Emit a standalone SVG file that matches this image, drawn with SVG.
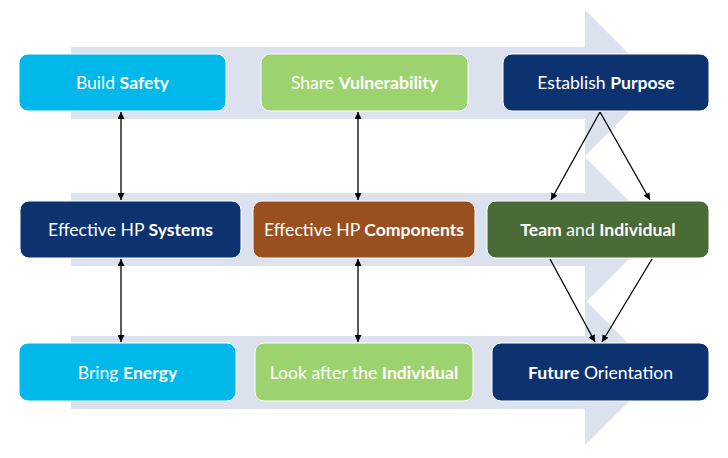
<svg xmlns="http://www.w3.org/2000/svg" width="728" height="458" viewBox="0 0 728 458">
<defs>
<style>
.band{fill:#dbe2ee}
.box{stroke:#ffffff;stroke-width:1}
.cyan{fill:#00b8ea}
.lgreen{fill:#9dd36f}
.navy{fill:#0c3370}
.brown{fill:#994f1f}
.dgreen{fill:#4a6a37}
.lbl{font-family:Lato,"Open Sans","Liberation Sans",sans-serif;font-size:17.6px;fill:#ffffff;text-anchor:middle}
.b{font-weight:bold}
.con{stroke:#000;stroke-width:1.3;fill:none}
</style>
<marker id="ah" viewBox="0 0 10 10" refX="10" refY="5" markerWidth="7" markerHeight="7" orient="auto-start-reverse" markerUnits="userSpaceOnUse">
<path d="M0,0 L10,5 L0,10 z" fill="#000"/>
</marker>
</defs>
<rect width="728" height="458" fill="#ffffff"/>
<g id="bands">
<polygon class="band" points="71,47 585,47 585,10 658,83 585,156 585,119 71,119"/>
<polygon class="band" points="71,193 585,193 585,157 658,230 585,303 585,266 71,266"/>
<polygon class="band" points="71,336 585,336 585,300 658,373 585,445 585,409 71,409"/>
</g>
<g id="connectors">
<line class="con" x1="121" y1="112" x2="121" y2="200" marker-start="url(#ah)" marker-end="url(#ah)"/>
<line class="con" x1="121" y1="259" x2="121" y2="342" marker-start="url(#ah)" marker-end="url(#ah)"/>
<line class="con" x1="358" y1="112" x2="358" y2="200" marker-start="url(#ah)" marker-end="url(#ah)"/>
<line class="con" x1="358" y1="259" x2="358" y2="342" marker-start="url(#ah)" marker-end="url(#ah)"/>
<line class="con" x1="600" y1="112" x2="551" y2="200" marker-end="url(#ah)"/>
<line class="con" x1="600" y1="112" x2="650" y2="200" marker-end="url(#ah)"/>
<line class="con" x1="550" y1="259" x2="595" y2="342" marker-end="url(#ah)"/>
<line class="con" x1="652" y1="259" x2="602" y2="342" marker-end="url(#ah)"/>
</g>
<g id="build-safety">
<rect class="box cyan" x="19" y="54" width="207" height="57" rx="9"/>
<text class="lbl" x="122.5" y="89">Build <tspan class="b">Safety</tspan></text>
</g>
<g id="share-vulnerability">
<rect class="box lgreen" x="261" y="54" width="207" height="57" rx="9"/>
<text class="lbl" x="364.5" y="89">Share <tspan class="b">Vulnerability</tspan></text>
</g>
<g id="establish-purpose">
<rect class="box navy" x="503" y="54" width="206" height="57" rx="9"/>
<text class="lbl" x="606" y="89">Establish <tspan class="b">Purpose</tspan></text>
</g>
<g id="effective-hp-systems">
<rect class="box navy" x="20" y="201" width="221" height="57" rx="9"/>
<text class="lbl" x="130.5" y="236">Effective HP <tspan class="b">Systems</tspan></text>
</g>
<g id="effective-hp-components">
<rect class="box brown" x="253" y="201" width="222" height="57" rx="9"/>
<text class="lbl" x="364" y="236">Effective HP <tspan class="b">Components</tspan></text>
</g>
<g id="team-and-individual">
<rect class="box dgreen" x="487" y="201" width="222" height="57" rx="9"/>
<text class="lbl" x="598" y="236"><tspan class="b">Team</tspan> and <tspan class="b">Individual</tspan></text>
</g>
<g id="bring-energy">
<rect class="box cyan" x="19" y="343" width="217" height="58" rx="9"/>
<text class="lbl" x="127.5" y="379">Bring <tspan class="b">Energy</tspan></text>
</g>
<g id="look-after-the-individual">
<rect class="box lgreen" x="255" y="343" width="218" height="58" rx="9"/>
<text class="lbl" x="364" y="379">Look after the <tspan class="b">Individual</tspan></text>
</g>
<g id="future-orientation">
<rect class="box navy" x="492" y="343" width="217" height="58" rx="9"/>
<text class="lbl" x="600.5" y="379"><tspan class="b">Future</tspan> Orientation</text>
</g>
</svg>
